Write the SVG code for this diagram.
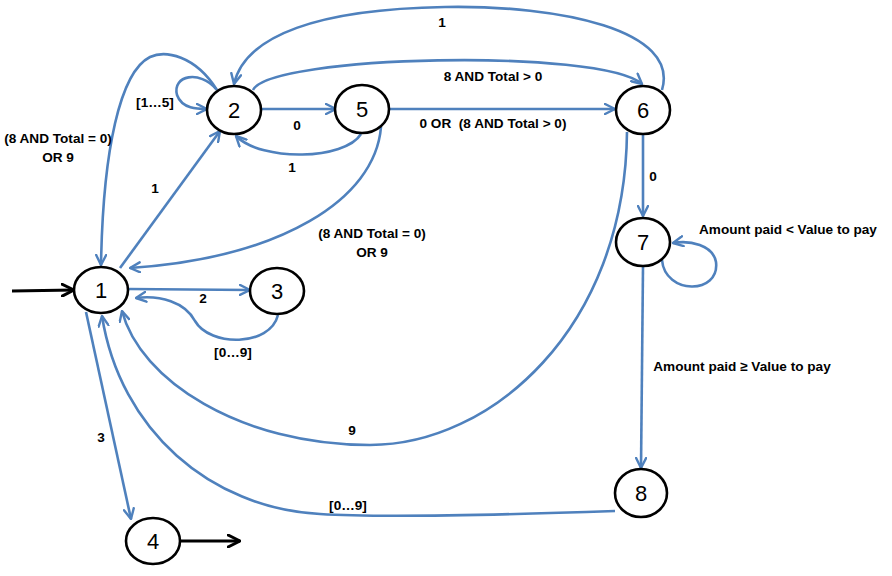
<svg xmlns="http://www.w3.org/2000/svg" width="892" height="576" viewBox="0 0 892 576">
<defs>
<style>
.e{fill:none;stroke:#4F81BD;stroke-width:2.6;marker-end:url(#ab)}
.k{fill:none;stroke:#000;stroke-width:3.2;marker-end:url(#ak)}
.n ellipse{fill:#fff;stroke:#000;stroke-width:2.6}
.n text{font-family:"Liberation Sans",Arial,sans-serif;font-size:22px;text-anchor:middle;fill:#000}
.l{font-family:"Liberation Sans",Arial,sans-serif;font-size:13.6px;font-weight:bold;text-anchor:middle;fill:#000;white-space:pre}
</style>
<marker id="ab" viewBox="0 0 12 12" refX="11" refY="6" markerWidth="12" markerHeight="12" markerUnits="userSpaceOnUse" orient="auto">
<path d="M1,1 L11,6 L1,11" fill="none" stroke="#4F81BD" stroke-width="2.4" stroke-linecap="round" stroke-linejoin="round"/>
</marker>
<marker id="ak" viewBox="0 0 14 14" refX="13" refY="7" markerWidth="14" markerHeight="14" markerUnits="userSpaceOnUse" orient="auto">
<path d="M1,1 L13,7 L1,13" fill="none" stroke="#000" stroke-width="3" stroke-linecap="round" stroke-linejoin="round"/>
</marker>
</defs>
<rect width="892" height="576" fill="#fff"/>
<g id="connectors">
<path class="k" d="M12 291 L74 290"/>
<path class="k" d="M181 541 L240 541"/>
<path class="e" d="M120 268 L220 131"/>
<path class="e" d="M217 90 C195 55 165 50 150 57 C120 72 103 150 101 265"/>
<path class="e" d="M216 89 C200 70 172 75 177 95 C182 109 198 109 207 109"/>
<path class="e" d="M261 109 L336 109"/>
<path class="e" d="M361 134 C345 160 262 162 236 136"/>
<path class="e" d="M389 109 L615 109"/>
<path class="e" d="M253 90 C270 55 600 48 642 84"/>
<path class="e" d="M662 90 C680 30 560 5 445 7 C320 9 245 35 234 84"/>
<path class="e" d="M381 127 C375 200 280 258 130 268"/>
<path class="e" d="M128 289 L250 290"/>
<path class="e" d="M278 315 C270 347 210 347 195 321 C185 302 160 295 136 298"/>
<path class="e" d="M86 312 L131 519"/>
<path class="e" d="M627 132 C625 330 490 445 370 445 C240 445 140 380 122 311"/>
<path class="e" d="M615 511 C500 515 380 518 320 514 C210 508 120 430 102 316"/>
<path class="e" d="M643 134 L643 216"/>
<path class="e" d="M662 260 C665 295 720 295 716 262 C713 245 690 240 673 243"/>
<path class="e" d="M643 267 L641 468"/>
</g>
<g id="labels">
<text class="l" x="155" y="193">1</text>
<text class="l" x="58" y="143">(8 AND Total = 0)</text>
<text class="l" x="58" y="162">OR 9</text>
<text class="l" x="155" y="107">[1…5]</text>
<text class="l" x="297" y="130">0</text>
<text class="l" x="292" y="172">1</text>
<text class="l" x="493" y="128" xml:space="preserve">0 OR  (8 AND Total &gt; 0)</text>
<text class="l" x="493" y="81">8 AND Total &gt; 0</text>
<text class="l" x="442" y="27">1</text>
<text class="l" x="372" y="238">(8 AND Total = 0)</text>
<text class="l" x="372" y="257">OR 9</text>
<text class="l" x="203" y="303">2</text>
<text class="l" x="233" y="357">[0…9]</text>
<text class="l" x="101" y="442">3</text>
<text class="l" x="352" y="435">9</text>
<text class="l" x="348" y="510">[0…9]</text>
<text class="l" x="653" y="181">0</text>
<text class="l" x="788" y="234">Amount paid &lt; Value to pay</text>
<text class="l" x="742" y="371">Amount paid ≥ Value to pay</text>
</g>
<g id="node1" class="n"><ellipse cx="101" cy="290" rx="27" ry="23"/><text x="101" y="298">1</text></g>
<g id="node2" class="n"><ellipse cx="234" cy="110" rx="27" ry="24"/><text x="234" y="118">2</text></g>
<g id="node3" class="n"><ellipse cx="277" cy="291" rx="27" ry="23"/><text x="277" y="299">3</text></g>
<g id="node4" class="n"><ellipse cx="153" cy="541" rx="27" ry="23"/><text x="153" y="549">4</text></g>
<g id="node5" class="n"><ellipse cx="362" cy="109" rx="27" ry="24"/><text x="362" y="117">5</text></g>
<g id="node6" class="n"><ellipse cx="643" cy="110" rx="27" ry="24"/><text x="643" y="118">6</text></g>
<g id="node7" class="n"><ellipse cx="643" cy="242" rx="27" ry="24"/><text x="643" y="250">7</text></g>
<g id="node8" class="n"><ellipse cx="641" cy="493" rx="26" ry="24"/><text x="641" y="501">8</text></g>
</svg>
